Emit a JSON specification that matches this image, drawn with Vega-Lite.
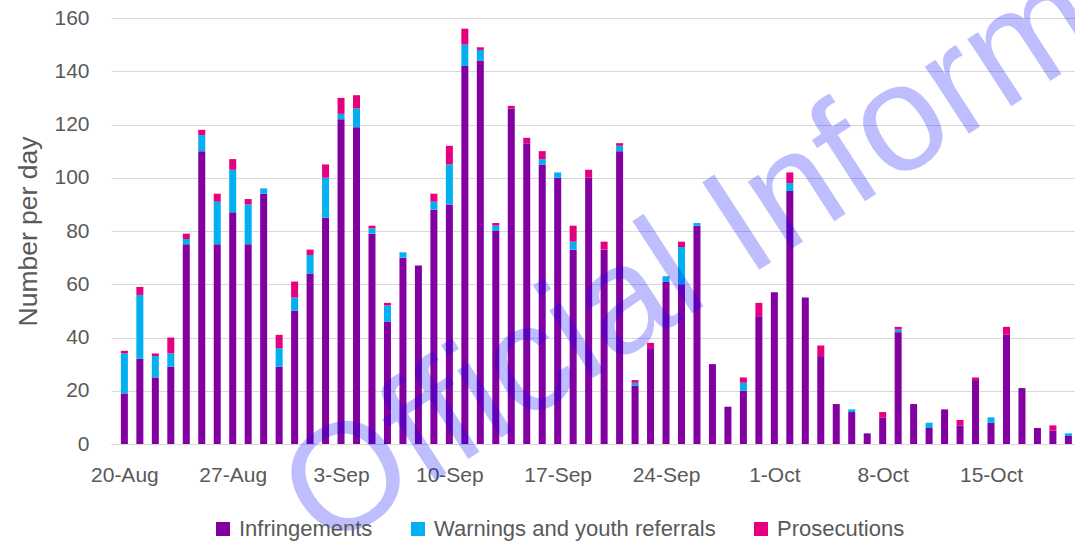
{
  "$schema": "https://vega.github.io/schema/vega-lite/v6.json",
  "autosize": {"type": "none"},
  "width": 964,
  "height": 426,
  "padding": {"left": 111, "top": 18, "right": 0, "bottom": 97},
  "background": "white",
  "config": {
    "view": {"stroke": null},
    "font": "Liberation Sans",
    "axis": {"labelColor": "#595959", "titleColor": "#595959"}
  },
  "datasets": {
    "series": [
      {"type": "Infringements", "rank": 1},
      {"type": "Warnings and youth referrals", "rank": 2},
      {"type": "Prosecutions", "rank": 3}
    ]
  },
  "layer": [
    {
      "data": {
        "values": [
          {"d": "2020-08-20", "Infringements": 19, "Warnings and youth referrals": 15, "Prosecutions": 1},
          {"d": "2020-08-21", "Infringements": 32, "Warnings and youth referrals": 24, "Prosecutions": 3},
          {"d": "2020-08-22", "Infringements": 25, "Warnings and youth referrals": 8, "Prosecutions": 1},
          {"d": "2020-08-23", "Infringements": 29, "Warnings and youth referrals": 5, "Prosecutions": 6},
          {"d": "2020-08-24", "Infringements": 75, "Warnings and youth referrals": 2, "Prosecutions": 2},
          {"d": "2020-08-25", "Infringements": 110, "Warnings and youth referrals": 6, "Prosecutions": 2},
          {"d": "2020-08-26", "Infringements": 75, "Warnings and youth referrals": 16, "Prosecutions": 3},
          {"d": "2020-08-27", "Infringements": 87, "Warnings and youth referrals": 16, "Prosecutions": 4},
          {"d": "2020-08-28", "Infringements": 75, "Warnings and youth referrals": 15, "Prosecutions": 2},
          {"d": "2020-08-29", "Infringements": 94, "Warnings and youth referrals": 2, "Prosecutions": 0},
          {"d": "2020-08-30", "Infringements": 29, "Warnings and youth referrals": 7, "Prosecutions": 5},
          {"d": "2020-08-31", "Infringements": 50, "Warnings and youth referrals": 5, "Prosecutions": 6},
          {"d": "2020-09-01", "Infringements": 64, "Warnings and youth referrals": 7, "Prosecutions": 2},
          {"d": "2020-09-02", "Infringements": 85, "Warnings and youth referrals": 15, "Prosecutions": 5},
          {"d": "2020-09-03", "Infringements": 122, "Warnings and youth referrals": 2, "Prosecutions": 6},
          {"d": "2020-09-04", "Infringements": 119, "Warnings and youth referrals": 7, "Prosecutions": 5},
          {"d": "2020-09-05", "Infringements": 79, "Warnings and youth referrals": 2, "Prosecutions": 1},
          {"d": "2020-09-06", "Infringements": 46, "Warnings and youth referrals": 6, "Prosecutions": 1},
          {"d": "2020-09-07", "Infringements": 70, "Warnings and youth referrals": 2, "Prosecutions": 0},
          {"d": "2020-09-08", "Infringements": 67, "Warnings and youth referrals": 0, "Prosecutions": 0},
          {"d": "2020-09-09", "Infringements": 88, "Warnings and youth referrals": 3, "Prosecutions": 3},
          {"d": "2020-09-10", "Infringements": 90, "Warnings and youth referrals": 15, "Prosecutions": 7},
          {"d": "2020-09-11", "Infringements": 142, "Warnings and youth referrals": 8, "Prosecutions": 6},
          {"d": "2020-09-12", "Infringements": 144, "Warnings and youth referrals": 4, "Prosecutions": 1},
          {"d": "2020-09-13", "Infringements": 80, "Warnings and youth referrals": 2, "Prosecutions": 1},
          {"d": "2020-09-14", "Infringements": 126, "Warnings and youth referrals": 0, "Prosecutions": 1},
          {"d": "2020-09-15", "Infringements": 113, "Warnings and youth referrals": 0, "Prosecutions": 2},
          {"d": "2020-09-16", "Infringements": 105, "Warnings and youth referrals": 2, "Prosecutions": 3},
          {"d": "2020-09-17", "Infringements": 100, "Warnings and youth referrals": 2, "Prosecutions": 0},
          {"d": "2020-09-18", "Infringements": 73, "Warnings and youth referrals": 3, "Prosecutions": 6},
          {"d": "2020-09-19", "Infringements": 100, "Warnings and youth referrals": 0, "Prosecutions": 3},
          {"d": "2020-09-20", "Infringements": 73, "Warnings and youth referrals": 0, "Prosecutions": 3},
          {"d": "2020-09-21", "Infringements": 110, "Warnings and youth referrals": 2, "Prosecutions": 1},
          {"d": "2020-09-22", "Infringements": 22, "Warnings and youth referrals": 1, "Prosecutions": 1},
          {"d": "2020-09-23", "Infringements": 36, "Warnings and youth referrals": 0, "Prosecutions": 2},
          {"d": "2020-09-24", "Infringements": 61, "Warnings and youth referrals": 2, "Prosecutions": 0},
          {"d": "2020-09-25", "Infringements": 60, "Warnings and youth referrals": 14, "Prosecutions": 2},
          {"d": "2020-09-26", "Infringements": 82, "Warnings and youth referrals": 1, "Prosecutions": 0},
          {"d": "2020-09-27", "Infringements": 30, "Warnings and youth referrals": 0, "Prosecutions": 0},
          {"d": "2020-09-28", "Infringements": 14, "Warnings and youth referrals": 0, "Prosecutions": 0},
          {"d": "2020-09-29", "Infringements": 20, "Warnings and youth referrals": 3, "Prosecutions": 2},
          {"d": "2020-09-30", "Infringements": 48, "Warnings and youth referrals": 0, "Prosecutions": 5},
          {"d": "2020-10-01", "Infringements": 57, "Warnings and youth referrals": 0, "Prosecutions": 0},
          {"d": "2020-10-02", "Infringements": 95, "Warnings and youth referrals": 3, "Prosecutions": 4},
          {"d": "2020-10-03", "Infringements": 55, "Warnings and youth referrals": 0, "Prosecutions": 0},
          {"d": "2020-10-04", "Infringements": 33, "Warnings and youth referrals": 0, "Prosecutions": 4},
          {"d": "2020-10-05", "Infringements": 15, "Warnings and youth referrals": 0, "Prosecutions": 0},
          {"d": "2020-10-06", "Infringements": 12, "Warnings and youth referrals": 1, "Prosecutions": 0},
          {"d": "2020-10-07", "Infringements": 4, "Warnings and youth referrals": 0, "Prosecutions": 0},
          {"d": "2020-10-08", "Infringements": 10, "Warnings and youth referrals": 0, "Prosecutions": 2},
          {"d": "2020-10-09", "Infringements": 42, "Warnings and youth referrals": 1, "Prosecutions": 1},
          {"d": "2020-10-10", "Infringements": 15, "Warnings and youth referrals": 0, "Prosecutions": 0},
          {"d": "2020-10-11", "Infringements": 6, "Warnings and youth referrals": 2, "Prosecutions": 0},
          {"d": "2020-10-12", "Infringements": 13, "Warnings and youth referrals": 0, "Prosecutions": 0},
          {"d": "2020-10-13", "Infringements": 7, "Warnings and youth referrals": 0, "Prosecutions": 2},
          {"d": "2020-10-14", "Infringements": 24, "Warnings and youth referrals": 0, "Prosecutions": 1},
          {"d": "2020-10-15", "Infringements": 8, "Warnings and youth referrals": 2, "Prosecutions": 0},
          {"d": "2020-10-16", "Infringements": 41, "Warnings and youth referrals": 0, "Prosecutions": 3},
          {"d": "2020-10-17", "Infringements": 21, "Warnings and youth referrals": 0, "Prosecutions": 0},
          {"d": "2020-10-18", "Infringements": 6, "Warnings and youth referrals": 0, "Prosecutions": 0},
          {"d": "2020-10-19", "Infringements": 5, "Warnings and youth referrals": 0, "Prosecutions": 2},
          {"d": "2020-10-20", "Infringements": 3, "Warnings and youth referrals": 1, "Prosecutions": 0}
        ]
      },
      "transform": [
        {"fold": ["Infringements", "Warnings and youth referrals", "Prosecutions"], "as": ["type", "n"]},
        {"lookup": "type", "from": {"data": {"name": "series"}, "key": "type", "fields": ["rank"]}}
      ],
      "mark": {"type": "bar", "width": 7},
      "encoding": {
        "x": {
          "field": "d",
          "type": "temporal",
          "scale": {
            "type": "utc",
            "domain": [
              {"year": 2020, "month": 8, "date": 19, "hours": 11, "utc": true},
              {"year": 2020, "month": 10, "date": 20, "hours": 2, "minutes": 30, "utc": true}
            ]
          },
          "axis": {
            "title": null,
            "labelExpr": "utcFormat(datum.value, '%-d-%b')",
            "values": [
              {"year": 2020, "month": 8, "date": 20, "utc": true},
              {"year": 2020, "month": 8, "date": 27, "utc": true},
              {"year": 2020, "month": 9, "date": 3, "utc": true},
              {"year": 2020, "month": 9, "date": 10, "utc": true},
              {"year": 2020, "month": 9, "date": 17, "utc": true},
              {"year": 2020, "month": 9, "date": 24, "utc": true},
              {"year": 2020, "month": 10, "date": 1, "utc": true},
              {"year": 2020, "month": 10, "date": 8, "utc": true},
              {"year": 2020, "month": 10, "date": 15, "utc": true}
            ],
            "grid": false,
            "ticks": false,
            "tickSize": 0,
            "domainColor": "#D9D9D9",
            "labelFontSize": 21,
            "labelPadding": 20,
            "labelFlush": false,
            "labelOverlap": false
          }
        },
        "y": {
          "field": "n",
          "type": "quantitative",
          "stack": "zero",
          "scale": {"domain": [0, 160], "nice": false},
          "axis": {
            "title": "Number per day",
            "titleFontSize": 26.5,
            "titleFontWeight": "normal",
            "titlePadding": 11,
            "values": [0, 20, 40, 60, 80, 100, 120, 140, 160],
            "grid": true,
            "gridColor": "#D9D9D9",
            "domain": false,
            "ticks": false,
            "labelFontSize": 21,
            "labelPadding": 22
          }
        },
        "order": {"field": "rank", "type": "quantitative", "sort": "ascending"},
        "color": {
          "field": "type",
          "type": "nominal",
          "sort": ["Infringements", "Warnings and youth referrals", "Prosecutions"],
          "scale": {
            "domain": ["Infringements", "Warnings and youth referrals", "Prosecutions"],
            "range": ["#8200A0", "#00B0F0", "#E6007E"]
          },
          "legend": {
            "title": null,
            "orient": "none",
            "legendX": 101,
            "legendY": 500,
            "direction": "horizontal",
            "symbolType": "square",
            "symbolSize": 196,
            "symbolStrokeWidth": 0,
            "labelFontSize": 22,
            "labelColor": "#595959",
            "labelOffset": 5,
            "labelLimit": 400,
            "columnPadding": 34
          }
        }
      }
    },
    {
      "data": {"values": [{"d": "2020-09-01T22:45:00Z", "v": -40.6, "label": "Official Information"}]},
      "mark": {
        "type": "text",
        "fontSize": 152,
        "angle": -33,
        "align": "left",
        "baseline": "alphabetic",
        "color": "#0000FF",
        "opacity": 0.25,
        "font": "Liberation Sans"
      },
      "encoding": {
        "x": {"field": "d", "type": "temporal"},
        "y": {"field": "v", "type": "quantitative"},
        "text": {"field": "label"}
      }
    }
  ]
}
